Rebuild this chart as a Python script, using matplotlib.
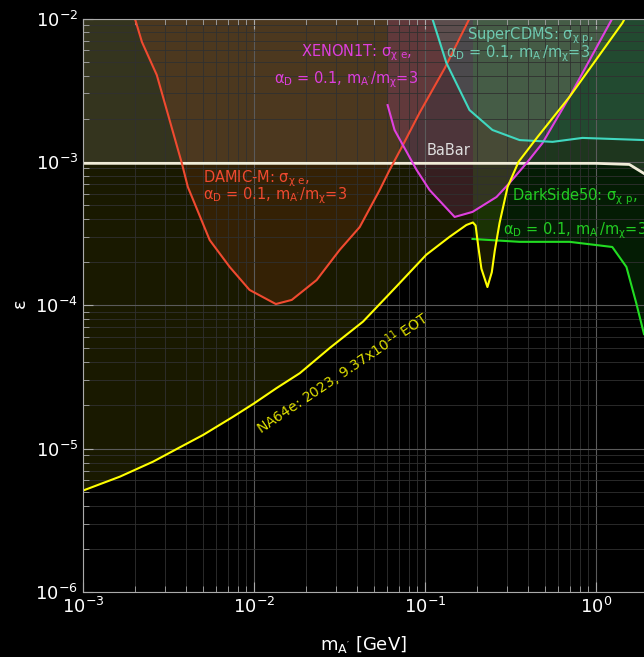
import numpy as np
import matplotlib
matplotlib.use("Agg")
import matplotlib.pyplot as plt

plt.rcParams["mathtext.default"] = "regular"

# exclusion curves: mass m_A' [GeV] vs epsilon
na64_m = [1.0e-3, 1.644e-3, 2.57e-3, 3.60e-3, 5.04e-3, 7.54e-3, 1.0e-2, 1.35e-2,
          1.85e-2, 2.77e-2, 4.33e-2, 6.78e-2, 0.1014, 0.1387, 0.174, 0.19,
          0.197, 0.204, 0.213, 0.231, 0.245, 0.255, 0.272, 0.303, 0.351, 0.453,
          0.697, 1.42, 1.5]
na64_eps = [5.1e-6, 6.38e-6, 8.12e-6, 1.007e-5, 1.247e-5, 1.67e-5, 2.07e-5,
            2.64e-5, 3.36e-5, 5.04e-5, 7.69e-5, 1.35e-4, 2.25e-4, 3.0e-4,
            3.63e-4, 3.78e-4, 3.6e-4, 2.6e-4, 1.8e-4, 1.34e-4, 1.7e-4, 2.4e-4,
            3.75e-4, 6.69e-4, 1.0e-3, 1.49e-3, 2.84e-3, 9.3e-3, 1.05e-2]

damic_m = [2.01e-3, 2.21e-3, 2.70e-3, 3.78e-3, 4.1e-3, 5.5e-3, 7.2e-3, 9.4e-3,
           0.0134, 0.0166, 0.0232, 0.0316, 0.0414, 0.0542, 0.062, 0.0738,
           0.0927, 0.13, 0.1815]
damic_eps = [1e-2, 6.86e-3, 4.03e-3, 9.8e-4, 6.68e-4, 2.85e-4, 1.85e-4, 1.28e-4,
             1.02e-4, 1.09e-4, 1.5e-4, 2.43e-4, 3.51e-4, 6.37e-4, 8.8e-4, 1.3e-3,
             2.2e-3, 4.5e-3, 1e-2]

xenon_m = [0.0603, 0.0662, 0.089, 0.106, 0.1486, 0.189, 0.261, 0.311, 0.391,
           0.484, 0.697, 1.24]
xenon_eps = [2.49e-3, 1.67e-3, 8.8e-4, 6.37e-4, 4.13e-4, 4.48e-4, 5.69e-4,
             7.13e-4, 9.8e-4, 1.35e-3, 2.84e-3, 1e-2]

cdms_m = [0.11, 0.133, 0.1815, 0.247, 0.356, 0.555, 0.83, 1.9]
cdms_eps = [1e-2, 4.9e-3, 2.3e-3, 1.67e-3, 1.42e-3, 1.38e-3, 1.47e-3, 1.42e-3]

ds_m = [0.189, 0.356, 0.697, 1.24, 1.5, 1.71, 1.9]
ds_eps = [2.9e-4, 2.77e-4, 2.77e-4, 2.55e-4, 1.85e-4, 1.04e-4, 6.3e-5]

babar_m = [1e-3, 0.1, 1.0, 1.56, 1.9]
babar_eps = [9.77e-4, 9.77e-4, 9.77e-4, 9.6e-4, 8.3e-4]

fig = plt.figure(figsize=(6.44, 6.57), dpi=100, facecolor="black")
ax = fig.add_axes([0.1289, 0.0989, 0.8711, 0.8729])
ax.set_facecolor("black")
ax.set_xscale("log")
ax.set_yscale("log")
ax.set_xlim(1e-3, 1.9)
ax.set_ylim(1e-6, 1e-2)

top = 1.0
# shaded exclusion regions
ax.fill_between(na64_m, na64_eps, top, color="#ffff00", alpha=0.1, lw=0)
ax.fill_between(babar_m, babar_eps, top, color="#ffffff", alpha=0.12, lw=0)
ax.fill_between(damic_m, damic_eps, top, color="#f05a28", alpha=0.13, lw=0)
ax.fill_between(xenon_m, xenon_eps, top, color="#dd3fdd", alpha=0.15, lw=0)
ax.fill_between(cdms_m, cdms_eps, top, color="#40e0d0", alpha=0.12, lw=0)
ax.fill_between(ds_m, ds_eps, top, color="#22dd22", alpha=0.13, lw=0)

ax.plot(babar_m, babar_eps, color="#f0ecd8", lw=2)
ax.plot(damic_m, damic_eps, color="#f04a30", lw=1.5)
ax.plot(xenon_m, xenon_eps, color="#e040e0", lw=1.5)
ax.plot(cdms_m, cdms_eps, color="#40d8c0", lw=1.5)
ax.plot(ds_m, ds_eps, color="#22dd22", lw=1.5)
ax.plot(na64_m, na64_eps, color="#ffff00", lw=1.5)

fs = 10.5
model = r"$\alpha_D$ = 0.1, $m_{A^{\prime}}/m_\chi$=3"
ax.text(0.0844, 5.42e-3, r"XENON1T: $\sigma_{\chi\ e}$,", color="#dd3fdd",
        fontsize=fs, ha="right", va="baseline")
ax.text(0.0903, 3.53e-3, model, color="#dd3fdd",
        fontsize=fs, ha="right", va="baseline")
ax.text(5.02e-3, 7.24e-4, r"DAMIC-M: $\sigma_{\chi\ e}$,", color="#f04a30",
        fontsize=fs, ha="left", va="baseline")
ax.text(5.02e-3, 5.48e-4, model, color="#f04a30",
        fontsize=fs, ha="left", va="baseline")
ax.text(0.1745, 7.16e-3, r"SuperCDMS: $\sigma_{\chi\ p}$,", color="#6fc9b0",
        fontsize=fs, ha="left", va="baseline")
ax.text(0.1315, 5.36e-3, model, color="#6fc9b0",
        fontsize=fs, ha="left", va="baseline")
ax.text(0.3237, 5.36e-4, r"DarkSide50: $\sigma_{\chi\ p}$,", color="#22cc22",
        fontsize=fs, ha="left", va="baseline")
ax.text(0.283, 3.14e-4, model, color="#22cc22",
        fontsize=fs, ha="left", va="baseline")
ax.text(0.1019, 1.117e-3, "BaBar", color="#dddddd", fontsize=fs, ha="left",
        va="baseline")
ax.text(0.033, 3.35e-5, r"NA64e: 2023, 9.37x10$^{11}$ EOT", color="#e0e000",
        fontsize=10, ha="center", va="center", rotation=34)

ax.grid(True, which="major", color="#5a5a5a", lw=0.8)
ax.grid(True, which="minor", color="#303030", lw=0.6)
ax.tick_params(which="both", direction="in", top=True, colors="#aaaaaa",
               labelcolor="white", labelsize=13)
ax.tick_params(which="major", length=7)
ax.tick_params(which="minor", length=4)
for s in ["left", "bottom", "top"]:
    ax.spines[s].set_color("#aaaaaa")
ax.spines["right"].set_visible(False)

ax.set_xlabel(r"$m_{A^{\prime}}$ [GeV]", color="white", fontsize=13, labelpad=12)
ax.set_ylabel(r"$\epsilon$", color="white", fontsize=13)

fig.savefig("out.png", dpi=100, facecolor="black")
